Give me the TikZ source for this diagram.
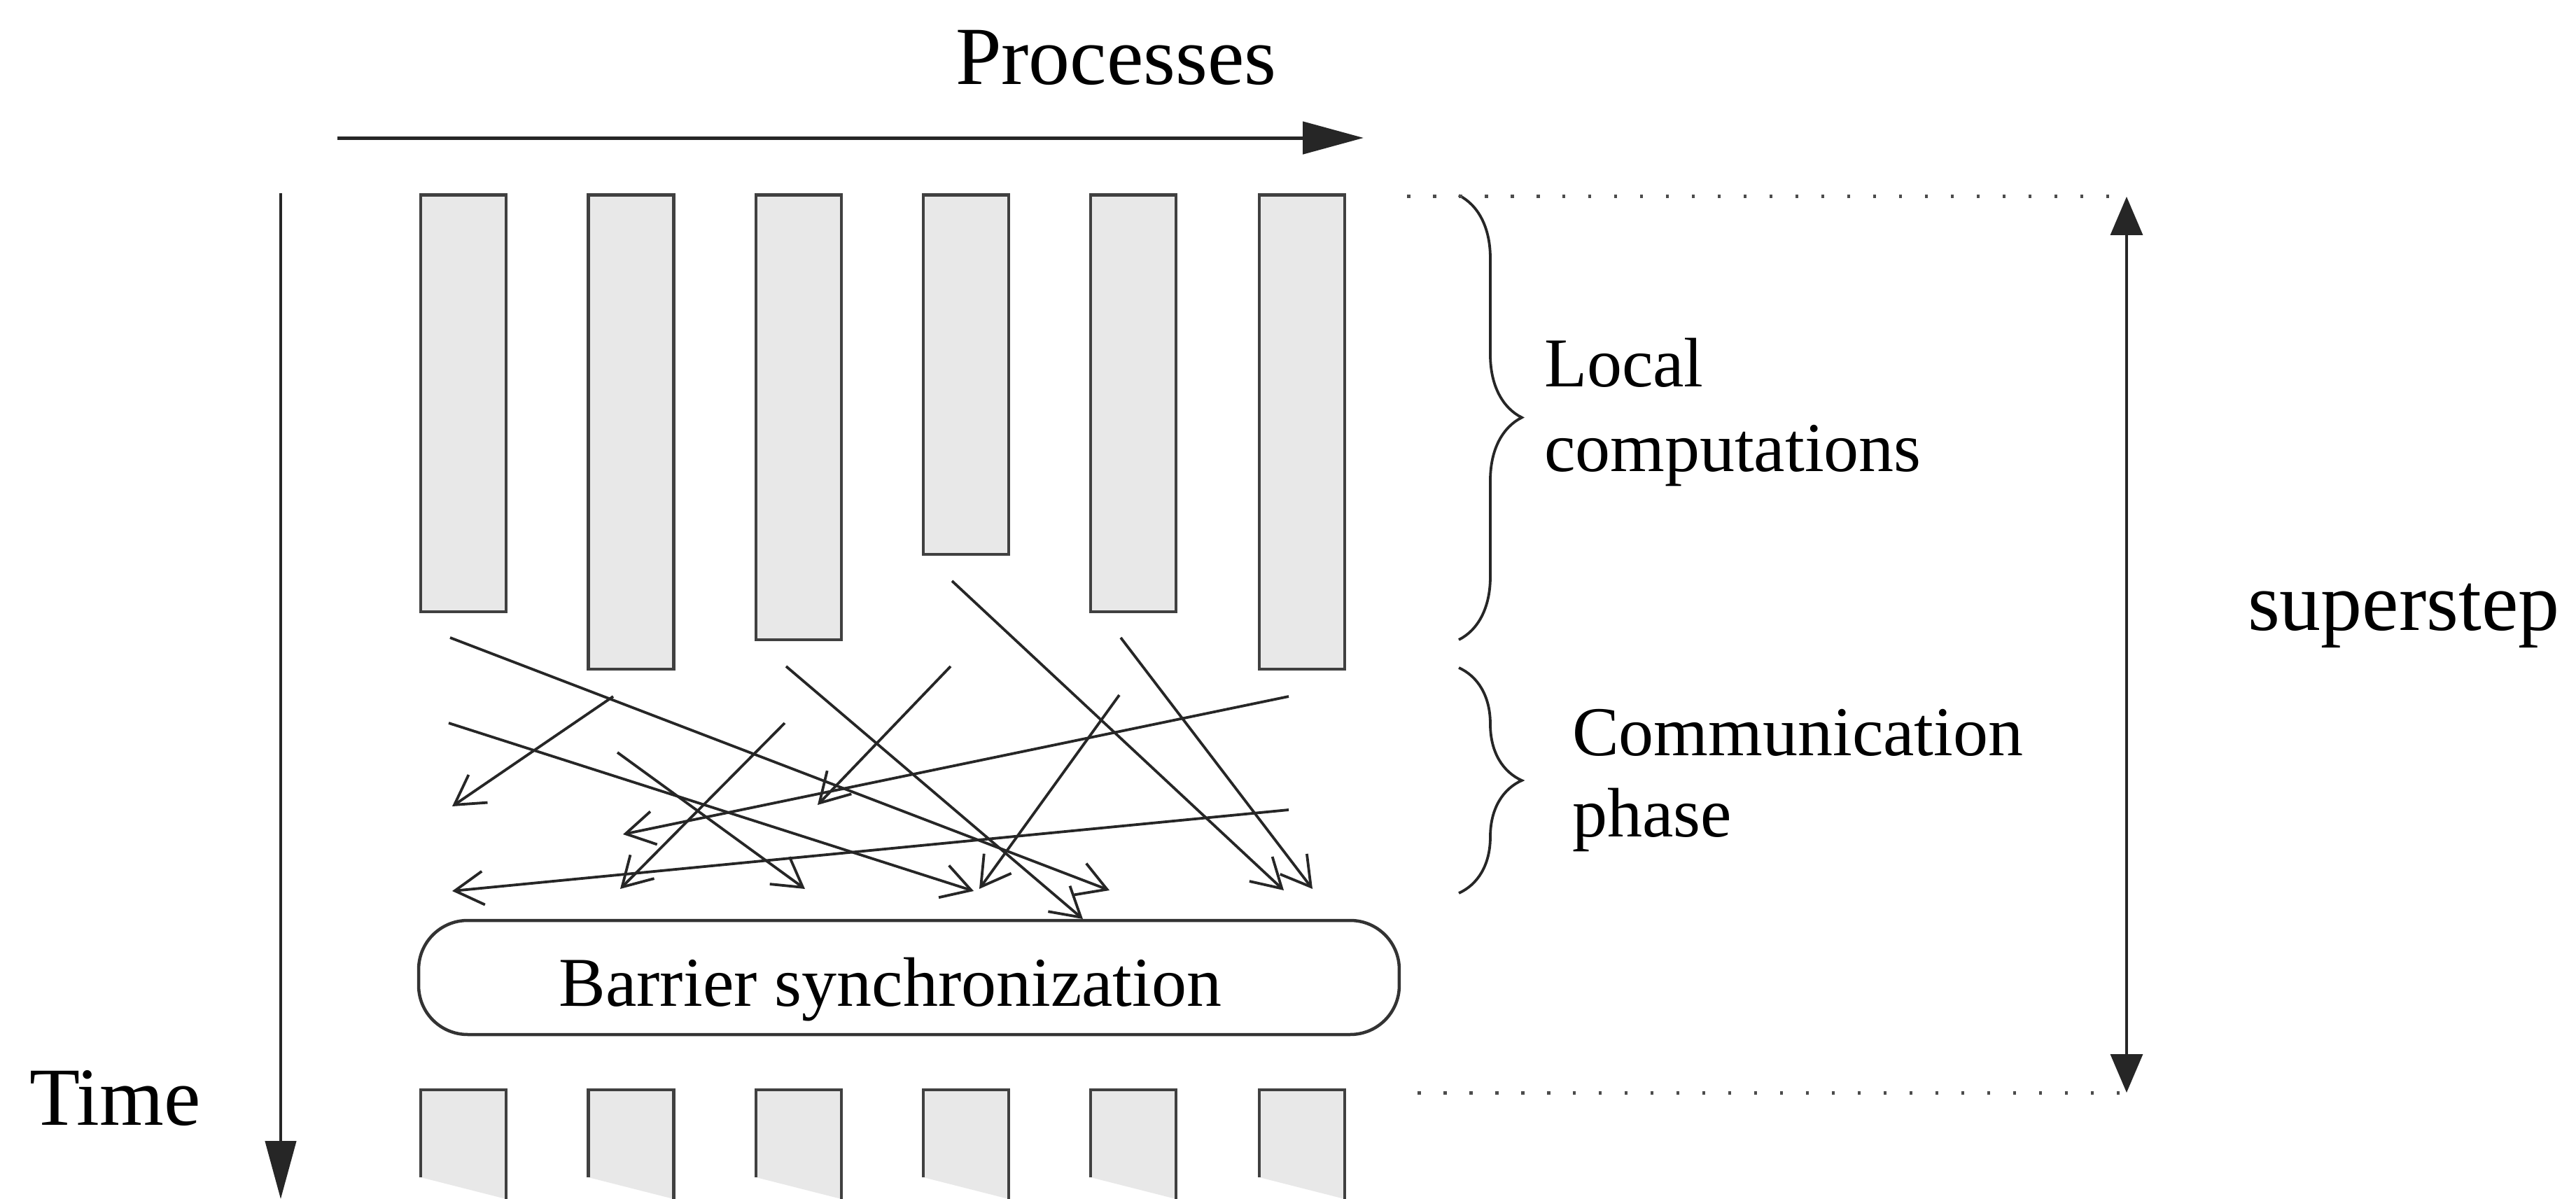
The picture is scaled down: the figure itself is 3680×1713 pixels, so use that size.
\documentclass[tikz,border=0pt]{standalone}
\usepackage{fontspec}
\setmainfont{Liberation Serif}
\usetikzlibrary{arrows.meta,decorations.pathreplacing}

\begin{document}
\begin{tikzpicture}[x=0.1pt,y=-0.1pt,
  bar/.style={draw=black!75, fill=black!9, line width=0.45pt, rectangle,
              inner sep=0pt, minimum width=12.2pt, anchor=north},
  stub/.style={draw=black!75, line width=0.45pt},
  msg/.style={draw=black!85, line width=0.38pt,
              -{Straight Barb[length=4.1pt,width=4.8pt]}},
  axis/.style={draw=black!85, line width=0.45pt},
  bigtext/.style={font=\fontsize{11.8}{14}\selectfont, inner sep=0pt, anchor=base west},
  smalltext/.style={font=\fontsize{10}{12}\selectfont, inner sep=0pt, anchor=base west},
  dots/.style={draw=black!70, line width=0.5pt, dash pattern=on 0.45pt off 3.25pt},
  bracket/.style={draw=black!85, line width=0.38pt, decorate,
                  decoration={brace, amplitude=9pt}},
  barrier/.style={draw=black!80, line width=0.45pt, rounded corners=7pt,
                  minimum width=140.1pt, minimum height=16.3pt, inner sep=0pt}
]
\useasboundingbox[fill=white] (0,0) rectangle (3680,1713);

% axes
\coordinate (px0) at (482,197);
\coordinate (px1) at (1948,197);
\draw[axis, line width=0.5pt, -{Triangle[length=8.7pt,width=4.6pt]}] (px0) -- (px1);
\node[bigtext] (proc) at (1363,120) {Processes};

\coordinate (tm0) at (401,276);
\coordinate (tm1) at (401,1713);
\draw[axis, -{Triangle[length=8.3pt,width=4.4pt]}] (tm0) -- (tm1);
\node[bigtext] (time) at (40,1607) {Time};

% local computation phase of each process
\node[bar, minimum height=59.6pt] (p1) at (662,276) {};
\node[bar, minimum height=67.8pt] (p2) at (901.5,276) {};
\node[bar, minimum height=63.6pt] (p3) at (1141,276) {};
\node[bar, minimum height=51.4pt] (p4) at (1380,276) {};
\node[bar, minimum height=59.6pt] (p5) at (1619,276) {};
\node[bar, minimum height=67.8pt] (p6) at (1860,276) {};

% start of the next superstep
\foreach \x in {662,901.5,1141,1380,1619,1860} {
  \fill[black!9] (\x-61,1557) -- (\x+61,1557) -- (\x+61,1713) -- (\x-61,1682) -- cycle;
  \draw[stub] (\x-61,1682) -- (\x-61,1557) -- (\x+61,1557) -- (\x+61,1713);
}

% barrier
\node[barrier] (sync) at (1298.5,1396.5) {};
\node[smalltext, anchor=base] (synctext) at (1272,1437) {Barrier synchronization};

% messages exchanged in the communication phase
\coordinate (a0) at (643,911);   \coordinate (a1) at (1585,1272);
\coordinate (b0) at (641,1033);  \coordinate (b1) at (1391,1273);
\coordinate (c0) at (876,995);   \coordinate (c1) at (646,1152);
\coordinate (d0) at (1123,952);  \coordinate (d1) at (1547,1313);
\coordinate (e0) at (1358,952);  \coordinate (e1) at (1168,1150);
\coordinate (f0) at (1360,830);  \coordinate (f1) at (1834,1272);
\coordinate (g0) at (1601,911);  \coordinate (g1) at (1875,1270);
\coordinate (h0) at (1841,995);  \coordinate (h1) at (890,1192);
\coordinate (i0) at (1841,1157); \coordinate (i1) at (646,1273);
\coordinate (j0) at (1121,1033); \coordinate (j1) at (886,1270);
\coordinate (k0) at (882,1075);  \coordinate (k1) at (1150,1270);
\coordinate (l0) at (1599,993);  \coordinate (l1) at (1399,1270);
\foreach \m in {a,b,c,d,e,f,g,h,i,j,k,l}
  \draw[msg] (\m0) -- (\m1);

% phase braces and labels
\coordinate (lb0) at (2084,279);  \coordinate (lb1) at (2084,914);
\draw[bracket] (lb0) -- (lb1);
\node[smalltext] (loc1) at (2204,553) {Local};
\node[smalltext] (loc2) at (2204,673) {computations};

\coordinate (cb0) at (2084,954);  \coordinate (cb1) at (2084,1276);
\draw[bracket] (cb0) -- (cb1);
\node[smalltext] (com1) at (2244,1079) {Communication};
\node[smalltext] (com2) at (2244,1195) {phase};

% superstep extent
\coordinate (st0) at (2010,280);  \coordinate (st1) at (3030,280);
\coordinate (sb0) at (2025,1561); \coordinate (sb1) at (3030,1561);
\draw[dots] (st0) -- (st1);
\draw[dots] (sb0) -- (sb1);
\coordinate (ss0) at (3038,281);  \coordinate (ss1) at (3038,1561);
\draw[axis, line width=0.35pt,
  {Triangle[length=5.5pt,width=4.6pt]}-{Triangle[length=5.5pt,width=4.6pt]}] (ss0) -- (ss1);
\node[bigtext] (step) at (3209,900) {superstep};
\end{tikzpicture}
\end{document}
